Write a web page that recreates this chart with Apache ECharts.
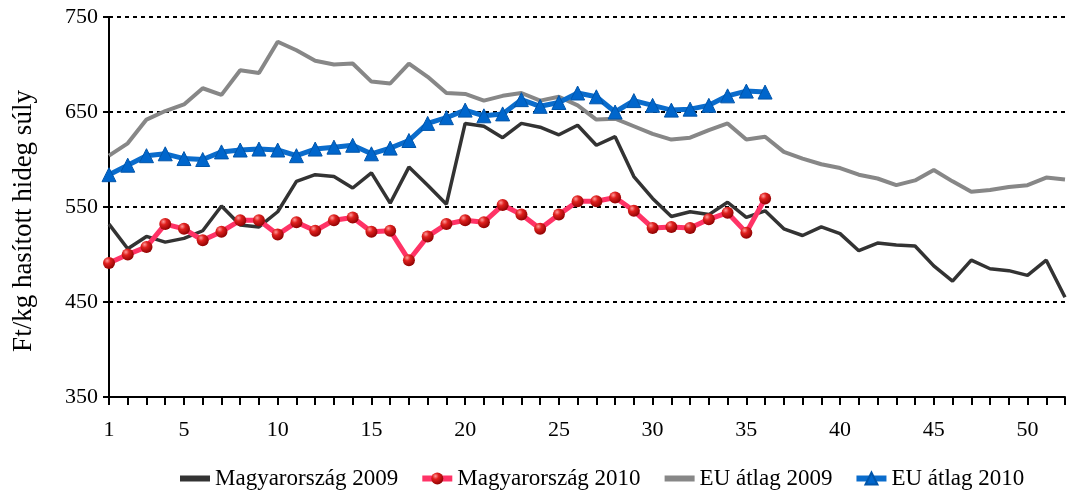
<!DOCTYPE html>
<html>
<head>
<meta charset="utf-8">
<script src="https://cdn.jsdelivr.net/npm/echarts@6/dist/echarts.min.js"></script>
<style>html,body{margin:0;padding:0;background:#fff}#c{width:1072px;height:495px}</style>
</head>
<body>
<div id="c"></div>
<script>
const weeks = Array.from({length: 52}, (_, i) => String(i + 1));
const hu2009 = [532,506,519,513,517,525,551,531,529,545,577,584,582,570,586,554,592,573,553,638,635,623,638,634,626,636,615,624,582,559,540,545,542,555,539,546,527,520,529,522,504,512,510,509,488,472,494,485,483,478,494,455];
const hu2010 = [491,500,508,532,527,515,524,536,536,521,534,525,536,539,524,525,494,519,532,536,534,552,542,527,542,556,556,560,546,528,529,528,537,544,523,559];
const eu2009 = [604,617,642,651,658,675,668,694,691,724,715,704,700,701,682,680,701,687,670,669,662,667,670,662,666,657,642,643,635,627,621,623,631,638,621,624,608,601,595,591,584,580,573,578,589,577,566,568,571,573,581,579];
const eu2010 = [584,594,604,606,601,600,608,610,611,610,604,611,613,615,606,612,620,638,644,652,646,648,663,656,660,670,666,650,662,657,652,653,657,667,672,671];
const yTicks = [350,450,550,650,750];
const seriesNames = ['Magyarország 2009','Magyarország 2010','EU átlag 2009','EU átlag 2010'];

const font = '"Liberation Serif", "DejaVu Serif", serif';
const chart = echarts.init(document.getElementById('c'), null, {renderer: 'canvas'});
const sphere = new echarts.graphic.RadialGradient(0.35, 0.3, 0.75, [
  {offset: 0, color: '#ff9a9a'},
  {offset: 0.35, color: '#e0201e'},
  {offset: 1, color: '#8a0000'}
]);
chart.setOption({
  animation: false,
  textStyle: {fontFamily: font},
  grid: {left: 109, right: 7, top: 17, bottom: 98, containLabel: false},
  legend: {
    bottom: 0, left: 172,
    itemWidth: 30, itemHeight: 15, itemGap: 21,
    lineStyle: {width: 6},
    textStyle: {fontFamily: font, fontSize: 23, color: '#000'},
    data: [
      {name: seriesNames[0], itemStyle: {opacity: 0}},
      {name: seriesNames[1]},
      {name: seriesNames[2], itemStyle: {opacity: 0}},
      {name: seriesNames[3]}
    ]
  },
  xAxis: {
    type: 'category', data: weeks, boundaryGap: false,
    axisLine: {lineStyle: {color: '#000', width: 2}},
    axisTick: {show: true, interval: 0, length: 8, lineStyle: {color: '#000', width: 2}},
    axisLabel: {
      interval: (i, v) => i === 0 || (+v) % 5 === 0,
      fontFamily: font, fontSize: 22, color: '#000', margin: 22
    },
    splitLine: {show: false}
  },
  yAxis: {
    type: 'value', min: yTicks[0], max: yTicks[yTicks.length - 1], interval: 100,
    name: 'Ft/kg hasított hideg súly', nameLocation: 'middle', nameGap: 72, nameRotate: 90,
    nameTextStyle: {fontFamily: font, fontSize: 27, color: '#000', padding: [0, 28, 0, 0]},
    axisLine: {show: true, lineStyle: {color: '#000', width: 2}},
    axisTick: {show: true, length: 6, lineStyle: {color: '#000', width: 2}},
    axisLabel: {fontFamily: font, fontSize: 22, color: '#000', margin: 11},
    splitLine: {show: true, lineStyle: {color: '#000', width: 2, type: [4, 4]}}
  },
  series: [
    {name: seriesNames[0], type: 'line', data: hu2009, symbol: 'none', z: 2,
     lineStyle: {color: '#333333', width: 3.5}, itemStyle: {color: '#333333'}},
    {name: seriesNames[2], type: 'line', data: eu2009, symbol: 'none', z: 1,
     lineStyle: {color: '#878787', width: 4}, itemStyle: {color: '#878787'}},
    {name: seriesNames[1], type: 'line', data: hu2010, symbol: 'circle', symbolSize: 12, z: 4,
     showAllSymbol: true,
     lineStyle: {color: '#ff3366', width: 5}, itemStyle: {color: sphere, borderWidth: 0}},
    {name: seriesNames[3], type: 'line', data: eu2010, symbol: 'triangle', symbolSize: 14, z: 3,
     showAllSymbol: true,
     lineStyle: {color: '#0a6ccc', width: 5}, itemStyle: {color: '#0066cc', borderColor: '#0055aa', borderWidth: 1}}
  ]
});
</script>
</body>
</html>
